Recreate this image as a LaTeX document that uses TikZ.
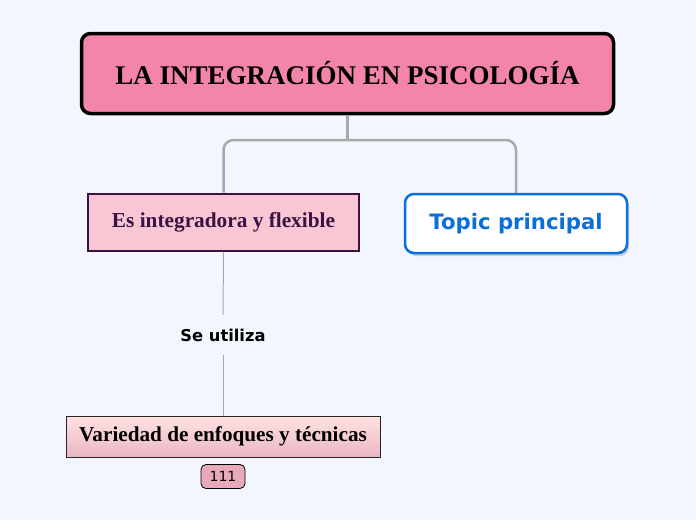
\documentclass[tikz,border=0pt]{standalone}
\usepackage{fontspec}
\setmainfont{Liberation Serif}
\newfontfamily\sansf{DejaVu Sans}
\usepackage{xcolor}
\usetikzlibrary{shadows}

\definecolor{bgcol}{HTML}{F3F6FE}
\definecolor{maincol}{HTML}{F385AB}
\definecolor{leftcol}{HTML}{F9C6D3}
\definecolor{purp}{HTML}{3A1244}
\definecolor{topicblue}{HTML}{0A6FDB}
\definecolor{linegray}{HTML}{A8A8A8}
\definecolor{badgecol}{HTML}{E8AABA}

\begin{document}
\begin{tikzpicture}[x=1pt,y=-1pt,
    mainbox/.style={draw=black,line width=3.5pt,fill=maincol,rounded corners=9pt,
      minimum width=532pt,minimum height=80pt,font=\bfseries\fontsize{27}{31}\selectfont},
    subbox/.style={draw=purp,line width=2.8pt,fill=leftcol,text=purp,
      minimum width=271pt,minimum height=57pt,font=\bfseries\fontsize{21.3}{25}\selectfont},
    topicbox/.style={draw=topicblue,line width=2.5pt,fill=white,text=topicblue,rounded corners=9pt,
      minimum width=222pt,minimum height=59pt,font=\sansf\bfseries\fontsize{21.2}{25}\selectfont,
      drop shadow={opacity=0.35,shadow xshift=2pt,shadow yshift=-3pt}},
    leafbox/.style={draw=black!85,line width=0.8pt,top color=pink!45,bottom color=badgecol!85,
      minimum width=314pt,minimum height=41pt,font=\bfseries\fontsize{21.2}{25}\selectfont},
    badge/.style={draw=black,line width=0.8pt,fill=badgecol,rounded corners=5pt,
      minimum width=44pt,minimum height=24pt,font=\sansf\fontsize{14}{16}\selectfont},
    conn/.style={draw=linegray,line width=2.5pt,rounded corners=10pt},
    thinconn/.style={draw=linegray,line width=1pt}]
  \useasboundingbox[fill=bgcol] (0,0) rectangle (696,520);

  \node[mainbox] (main) at (347.5,73.5) {LA INTEGRACIÓN EN PSICOLOGÍA};
  \node[subbox] (flex) at (223.5,222.5) {Es integradora y flexible};
  \node[topicbox] (topic) at (516,223.5) {Topic principal};
  \node[font=\sansf\bfseries\fontsize{16.3}{19}\selectfont,minimum height=40pt] (uso) at (223,335) {Se utiliza};
  \node[leafbox] (var) at (223,436.5) {Variedad de enfoques y técnicas};
  \node[badge] (num) at (223,476.5) {111};

  % branch from the central topic
  \coordinate (junc) at (347.5,140);
  \draw[conn] (main.south) -- (junc);
  \draw[conn] (junc) -| (flex.north);
  \draw[conn] (junc) -| (topic.north);
  \draw[thinconn] (flex.south) -- (uso.north);
  \draw[thinconn] (uso.south) -- (var.north);
\end{tikzpicture}
\end{document}
